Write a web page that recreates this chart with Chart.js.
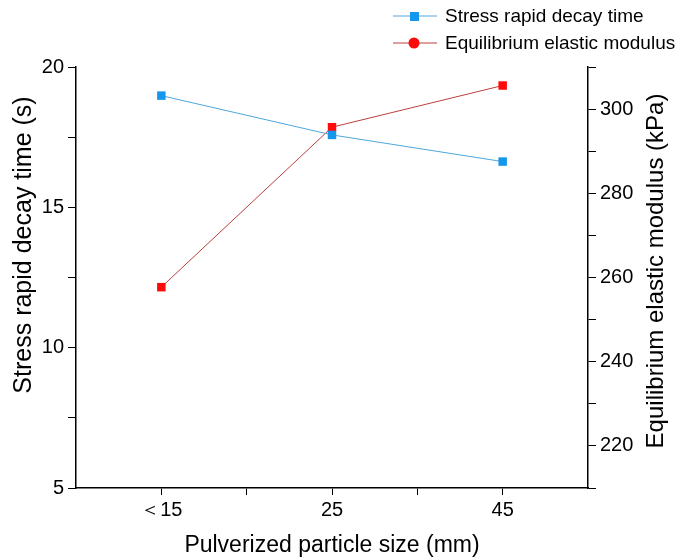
<!DOCTYPE html>
<html>
<head>
<meta charset="utf-8">
<script src="https://cdn.jsdelivr.net/npm/chart.js@4"></script>
<style>
  html, body { margin: 0; padding: 0; background: #fff; }
  #wrap { width: 683px; height: 559px; }
</style>
</head>
<body>
<div id="wrap"><canvas id="chart"></canvas></div>
<script>
// data
var sizes = ['＜15', '25', '45'];
var decayTime = [18.98, 17.58, 16.63];
var elasticModulus = [257.7, 295.7, 305.6];

var blueMark = '#1597ec', blueLine = '#4ea6dc';
var redMark = '#ff0a0a', redLine = '#b8403c';
var font = '"Liberation Sans", Arial, sans-serif';

function pts(arr) {
    return arr.map(function (v, i) { return { x: i, y: v }; });
}

function vText(ctx, text, x, y, size) {
    ctx.save();
    ctx.translate(x, y);
    ctx.rotate(-Math.PI / 2);
    ctx.textAlign = 'center';
    ctx.textBaseline = 'middle';
    ctx.font = size + 'px ' + font;
    ctx.fillStyle = '#000';
    ctx.fillText(text, 0, 0);
    ctx.restore();
}

// legend drawn top right, stacked, plus both y titles reading upward
var extrasPlugin = {
    id: 'extras',
    afterDraw: function (chart) {
        var ctx = chart.ctx;
        var items = [
            { text: 'Stress rapid decay time', line: blueLine, mark: blueMark, shape: 'rect' },
            { text: 'Equilibrium elastic modulus', line: redLine, mark: redMark, shape: 'circle' }
        ];
        ctx.save();
        ctx.font = '19px ' + font;
        ctx.textBaseline = 'middle';
        items.forEach(function (it, i) {
            var y = 16 + i * 27;
            ctx.strokeStyle = it.line;
            ctx.lineWidth = 1;
            ctx.beginPath();
            ctx.moveTo(393, y);
            ctx.lineTo(437, y);
            ctx.stroke();
            ctx.fillStyle = it.mark;
            if (it.shape === 'rect') {
                ctx.fillRect(410, y - 4, 9, 9);
            } else {
                ctx.beginPath();
                ctx.arc(414, y, 5.5, 0, Math.PI * 2);
                ctx.fill();
            }
            ctx.fillStyle = '#000';
            ctx.fillText(it.text, 445, y + 1);
        });
        ctx.restore();

        vText(ctx, 'Stress rapid decay time (s)', 24, 245, 25);
        vText(ctx, 'Equilibrium elastic modulus (kPa)', 656, 271, 24);
    }
};

var ctx = document.getElementById('chart').getContext('2d');

var myChart = new Chart(ctx, {
    type: 'line',
    data: {
        datasets: [{
            label: 'Stress rapid decay time',
            data: pts(decayTime),
            yAxisID: 'y',
            borderColor: blueLine,
            borderWidth: 1,
            pointStyle: 'rect',
            pointRadius: 6,
            pointBackgroundColor: blueMark,
            pointBorderColor: blueMark,
            pointBorderWidth: 0
        }, {
            label: 'Equilibrium elastic modulus',
            data: pts(elasticModulus),
            yAxisID: 'y1',
            borderColor: redLine,
            borderWidth: 1,
            pointStyle: 'rect',
            pointRadius: 6,
            pointBackgroundColor: redMark,
            pointBorderColor: redMark,
            pointBorderWidth: 0
        }]
    },
    options: {
        responsive: true,
        maintainAspectRatio: false,
        animation: false,
        layout: { padding: { top: 67, left: 0, right: 0, bottom: 0 } },
        plugins: {
            legend: { display: false },
            tooltip: { enabled: false }
        },
        scales: {
            x: {
                type: 'linear',
                min: -0.5,
                max: 2.5,
                afterBuildTicks: function (scale) {
                    scale.ticks = [0, 0.5, 1, 1.5, 2].map(function (v) { return { value: v }; });
                },
                afterFit: function (scale) { scale.height = 71; },
                ticks: {
                    autoSkip: false,
                    maxRotation: 0,
                    padding: 3,
                    color: '#000',
                    font: { family: font, size: 20 },
                    callback: function (v) {
                        return Number.isInteger(v) ? sizes[v] : '';
                    }
                },
                grid: {
                    drawOnChartArea: false,
                    drawTicks: true,
                    tickLength: 7,
                    color: '#000',
                    tickColor: '#000'
                },
                border: { color: '#000', width: 1.5 },
                title: {
                    display: true,
                    text: 'Pulverized particle size (mm)',
                    color: '#000',
                    font: { family: font, size: 23 },
                    padding: { top: 0, bottom: 0 }
                }
            },
            y: {
                position: 'left',
                min: 5,
                max: 20,
                afterFit: function (scale) { scale.width = 76; },
                ticks: {
                    stepSize: 2.5,
                    padding: 4,
                    color: '#000',
                    font: { family: font, size: 20 },
                    callback: function (v) { return v % 5 === 0 ? v : ''; }
                },
                grid: {
                    drawOnChartArea: false,
                    tickLength: 8,
                    color: '#000'
                },
                border: { color: '#000', width: 1.5 }
            },
            y1: {
                position: 'right',
                min: 210,
                max: 310,
                afterFit: function (scale) { scale.width = 95; },
                ticks: {
                    stepSize: 10,
                    padding: 4,
                    color: '#000',
                    font: { family: font, size: 20 },
                    callback: function (v) { return v % 20 === 0 ? v : ''; }
                },
                grid: {
                    drawOnChartArea: false,
                    tickLength: 8,
                    color: '#000'
                },
                border: { color: '#000', width: 1.5 }
            }
        }
    },
    plugins: [extrasPlugin]
});
</script>
</body>
</html>
